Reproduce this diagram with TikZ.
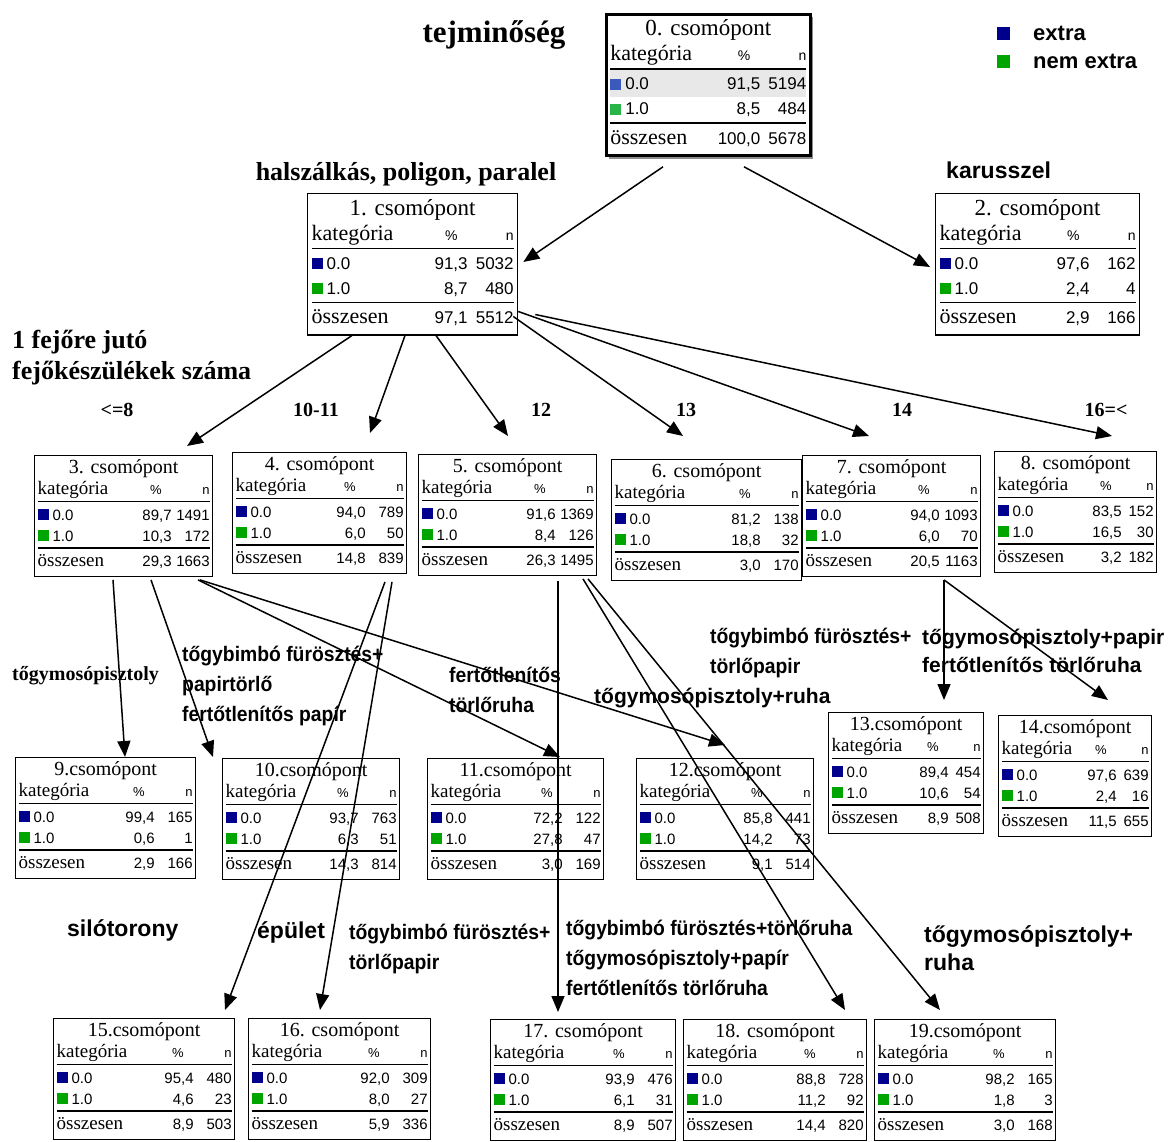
\documentclass[tikz,border=0pt]{standalone}
\usepackage{fontspec}
\setmainfont{Liberation Serif}
\setsansfont{Liberation Sans}
\newfontfamily\condsans[FakeStretch=0.92]{Liberation Sans}
\usepackage{array,colortbl}
\usetikzlibrary{arrows.meta,shadows}

\definecolor{csblue}{RGB}{0,0,140}
\definecolor{csgreen}{RGB}{0,165,0}
\definecolor{csblueL}{RGB}{60,90,190}
\definecolor{csgreenL}{RGB}{40,180,70}
\definecolor{csgray}{RGB}{232,232,232}

\newlength{\cslw}\newlength{\cspw}\newlength{\csnw}\newlength{\csgap}
\newcolumntype{L}{>{\raggedright\arraybackslash}p{\cslw}}
\newcolumntype{P}{>{\raggedleft\arraybackslash}p{\cspw}}
\newcolumntype{N}{>{\raggedleft\arraybackslash}p{\csnw}}
\def\csrowhl{}\def\csbc{csblue}\def\csgc{csgreen}
\newcommand{\csq}[1]{\textcolor{#1}{\rule{11pt}{11pt}}\hspace{4pt}}
\newcommand{\cssmall}{\fontsize{15}{21}\selectfont\sffamily
  \def\csT{\fontsize{20}{21}\selectfont\rmfamily}%
  \def\csH{\fontsize{19}{21}\selectfont\rmfamily}%
  \def\csP{\fontsize{13}{21}\selectfont}%
  \setlength{\csgap}{18pt}\setlength{\arrayrulewidth}{1.5pt}}
\newcommand{\csbig}{\fontsize{17}{25}\selectfont\sffamily
  \def\csT{\fontsize{23}{25}\selectfont\rmfamily}%
  \def\csH{\fontsize{22}{25}\selectfont\rmfamily}%
  \def\csP{\fontsize{14}{25}\selectfont}%
  \setlength{\csgap}{20pt}\setlength{\arrayrulewidth}{1.6pt}}
\newcommand{\cstab}[7]{%
  \setlength{\tabcolsep}{0pt}%
  \begin{tabular}{@{}L@{}P@{}N@{}}
    \multicolumn{3}{@{}c@{}}{\csT #1csomópont}\\
    \csH kategória & \multicolumn{1}{@{}r@{}}{\csP\%\hspace*{10pt}} & \multicolumn{1}{@{}r@{}}{\csP n}\\
    \hline
    \csrowhl\rule{0pt}{\csgap}\csq{\csbc}0.0 & #2 & #3\\
    \csq{\csgc}1.0 & #4 & #5\\
    \hline
    \rule{0pt}{\csgap}\csH összesen & #6 & #7
  \end{tabular}}

\tikzset{
  cs/.style n args={4}{draw, line width=1.3pt, fill=white, anchor=north west, inner sep=3pt,
    font=#4, execute at begin node={\setlength{\cslw}{#1}\setlength{\cspw}{#2}\setlength{\csnw}{#3}}},
  cssm/.style={cs={#1}{46pt}{38pt}{\cssmall}},
  csnr/.style={cs={#1}{44pt}{32pt}{\cssmall}},
  csbg/.style={cs={#1}{58pt}{46pt}{\csbig}, inner sep=4pt},
  arr/.style={-{Triangle[length=16pt,width=13pt]}, line width=1.5pt},
  hd/.style={inner sep=0pt, align=left, font=\bfseries\fontsize{#1}{31}\selectfont},
  cnd/.style={inner sep=0pt, align=left, anchor=west, font=\condsans\bfseries\fontsize{21}{30}\selectfont},
  pln/.style={inner sep=0pt, align=left, anchor=west, font=\sffamily\bfseries\fontsize{#1}{28}\selectfont}
}

\begin{document}
\begin{tikzpicture}[x=1pt,y=-1pt]
\useasboundingbox (0,0) rectangle (1169,1141);
\node[hd=31] (ttl) at (494,35) {tejminőség};
\node[fill=csblue,minimum size=13pt,inner sep=0pt] (lgb) at (1003,33) {};
\node[pln=22] (lgbt) at (1033,33) {extra};
\node[fill=csgreen,minimum size=13pt,inner sep=0pt] (lgg) at (1003,61) {};
\node[pln=22] (lggt) at (1033,61) {nem extra};
\node[csbg={92pt}, line width=2.6pt, drop shadow={shadow xshift=3pt,shadow yshift=-3pt,fill=black!45,opacity=1},
  font={\csbig\def\csrowhl{\rowcolor{csgray}}\def\csbc{csblueL}\def\csgc{csgreenL}}] (n0) at (605,13)
  {\cstab{0. }{91,5}{5194}{8,5}{484}{100,0}{5678}};
\node[hd=26] (lv1) at (406,174) {halszálkás, poligon, paralel};
\node[pln=23] (lv2) at (946,170) {karusszel};
\node[csbg={98pt}] (n1) at (307,193) {\cstab{1. }{91,3}{5032}{8,7}{480}{97,1}{5512}};
\node[csbg={92pt}] (n2) at (935,193) {\cstab{2. }{97,6}{162}{2,4}{4}{2,9}{166}};
\node[hd=26,anchor=west] (lv3) at (12,358) {1 fejőre jutó\\fejőkészülékek száma};
\node[hd=20] (k3) at (117,410) {<=8};
\node[hd=20] (k4) at (316,410) {10-11};
\node[hd=20] (k5) at (541,410) {12};
\node[hd=20] (k6) at (686,410) {13};
\node[hd=20] (k7) at (902,410) {14};
\node[hd=20] (k8) at (1106,410) {16=<};
\node[cssm={88pt}] (n3) at (34,455) {\cstab{3. }{89,7}{1491}{10,3}{172}{29,3}{1663}};
\node[cssm={84pt}] (n4) at (232,452) {\cstab{4. }{94,0}{789}{6,0}{50}{14,8}{839}};
\node[cssm={88pt}] (n5) at (418,454) {\cstab{5. }{91,6}{1369}{8,4}{126}{26,3}{1495}};
\node[cssm={100pt}] (n6) at (611,459) {\cstab{6. }{81,2}{138}{18,8}{32}{3,0}{170}};
\node[cssm={88pt}] (n7) at (802,455) {\cstab{7. }{94,0}{1093}{6,0}{70}{20,5}{1163}};
\node[csnr={80pt}] (n8) at (994,451) {\cstab{8. }{83,5}{152}{16,5}{30}{3,2}{182}};
\node[hd=20,anchor=west] (k9) at (12,676) {tőgymosópisztoly};
\node[cnd] (k10) at (182,686) {tőgybimbó fürösztés+\\papirtörlő\\fertőtlenítős papír};
\node[cnd] (k11) at (449,690) {fertőtlenítős\\törlőruha};
\node[pln=21] (k12) at (594,698) {tőgymosópisztoly+ruha};
\node[cnd] (k13) at (710,653) {tőgybimbó fürösztés+\\törlőpapir};
\node[pln=21] (k14) at (922,651) {tőgymosópisztoly+papir\\fertőtlenítős törlőruha};
\node[csnr={73pt}] (n13) at (828,712) {\cstab{13.}{89,4}{454}{10,6}{54}{8,9}{508}};
\node[csnr={71pt}] (n14) at (998,715) {\cstab{14.}{97,6}{639}{2,4}{16}{11,5}{655}};
\node[cssm={90pt}] (n9) at (15,757) {\cstab{9.}{99,4}{165}{0,6}{1}{2,9}{166}};
\node[cssm={87pt}] (n10) at (222,758) {\cstab{10.}{93,7}{763}{6,3}{51}{14,3}{814}};
\node[cssm={86pt}] (n11) at (427,758) {\cstab{11.}{72,2}{122}{27,8}{47}{3,0}{169}};
\node[cssm={87pt}] (n12) at (636,758) {\cstab{12.}{85,8}{441}{14,2}{73}{9,1}{514}};
\node[pln=23] (k15) at (67,930) {silótorony};
\node[pln=23] (k16) at (257,932) {épület};
\node[cnd] (k17) at (349,949) {tőgybimbó fürösztés+\\törlőpapir};
\node[cnd] (k18) at (566,958) {tőgybimbó fürösztés+törlőruha\\tőgymosópisztoly+papír\\fertőtlenítős törlőruha};
\node[pln=23] (k19) at (924,948) {tőgymosópisztoly+\\ruha};
\node[cssm={91pt}] (n15) at (53,1018) {\cstab{15.}{95,4}{480}{4,6}{23}{8,9}{503}};
\node[cssm={92pt}] (n16) at (248,1018) {\cstab{16. }{92,0}{309}{8,0}{27}{5,9}{336}};
\node[cssm={95pt}] (n17) at (490,1019) {\cstab{17. }{93,9}{476}{6,1}{31}{8,9}{507}};
\node[cssm={93pt}] (n18) at (683,1019) {\cstab{18. }{88,8}{728}{11,2}{92}{14,4}{820}};
\node[cssm={91pt}] (n19) at (874,1019) {\cstab{19.}{98,2}{165}{1,8}{3}{3,0}{168}};
\draw[arr] ([xshift=58pt,yshift=-10pt]n0.south west) -- ([xshift=5pt,yshift=-69pt]n1.north east);
\draw[arr] ([xshift=139pt,yshift=-10pt]n0.south west) -- ([xshift=-5pt,yshift=-74pt]n2.north west);
\draw[arr] ([xshift=45pt]n1.south west) -- ([xshift=153pt,yshift=9pt]n3.north west);
\draw[arr] ([xshift=98pt]n1.south west) -- ([xshift=138pt,yshift=19pt]n4.north west);
\draw[arr] ([xshift=129pt]n1.south west) -- ([xshift=90pt,yshift=18pt]n5.north west);
\draw[arr] ([xshift=-5pt,yshift=19pt]n1.south east) -- ([xshift=72pt,yshift=23pt]n6.north west);
\draw[arr] ([yshift=24pt]n1.south east) -- ([xshift=67pt,yshift=19pt]n7.north west);
\draw[arr] ([xshift=17pt,yshift=21pt]n1.south east) -- ([xshift=118pt,yshift=15pt]n8.north west);
\draw[arr] ([xshift=79pt,yshift=-3pt]n3.south west) -- ([xshift=110pt]n9.north west);
\draw[arr] ([xshift=117pt,yshift=-3pt]n3.south west) -- ([xshift=-9pt,yshift=1pt]n10.north west);
\draw[arr] ([xshift=164pt,yshift=-3pt]n3.south west) -- ([xshift=133pt,yshift=1pt]n11.north west);
\draw[arr] ([xshift=166pt,yshift=-3pt]n3.south west) -- ([xshift=89pt,yshift=13pt]n12.north west);
\draw[arr] ([xshift=153pt,yshift=-8pt]n4.south west) -- ([xshift=172pt,yshift=8pt]n15.north west);
\draw[arr] ([xshift=160pt,yshift=-8pt]n4.south west) -- ([xshift=72pt,yshift=8pt]n16.north west);
\draw[arr] ([xshift=140pt,yshift=-5pt]n5.south west) -- ([xshift=68pt,yshift=7pt]n17.north west);
\draw[arr] ([xshift=165pt,yshift=-3pt]n5.south west) -- ([xshift=162pt,yshift=9pt]n18.north west);
\draw[arr] ([xshift=170pt,yshift=-3pt]n5.south west) -- ([xshift=66pt,yshift=9pt]n19.north west);
\draw[arr] ([xshift=142pt,yshift=-3pt]n7.south west) -- ([xshift=116pt,yshift=12pt]n13.north west);
\draw[arr] ([xshift=142pt,yshift=-3pt]n7.south west) -- ([xshift=110pt,yshift=15pt]n14.north west);
\end{tikzpicture}
\end{document}
